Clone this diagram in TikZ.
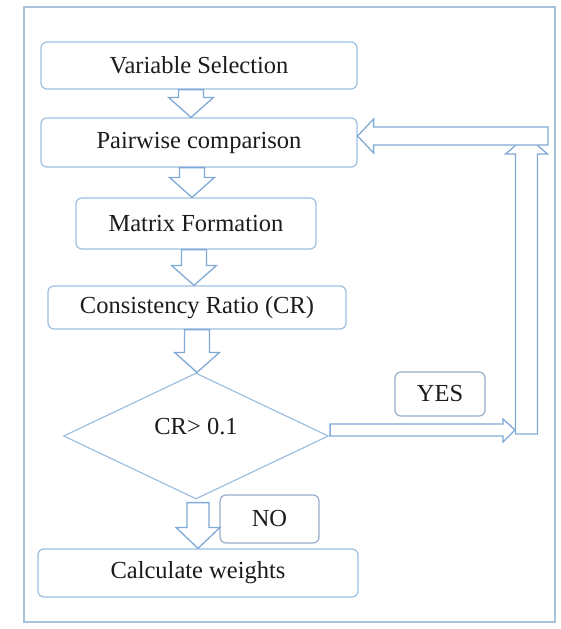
\documentclass[tikz,border=0pt]{standalone}
\usepackage{fontspec}
\setmainfont{Liberation Serif}
\usetikzlibrary{shapes.geometric,calc}
\definecolor{boxline}{HTML}{9DBFDF}
\definecolor{arrline}{HTML}{7FA9D6}
\definecolor{frameline}{HTML}{A7C3DC}
\definecolor{txt}{HTML}{1C1C1C}
\tikzset{
 proc/.style={draw=boxline, line width=1.2pt, rounded corners=6pt, fill=white, text=txt,
   font=\fontsize{24.5}{28}\selectfont, inner sep=0pt},
 tagbox/.style={proc, draw=boxline!75!gray},
 barrow/.style={draw=arrline, line width=1.3pt, fill=white, line join=miter},
}
\newcommand{\vblk}[3]{%
  \draw[barrow] let \p1=(#1.south), \p2=(#2.north) in
   (#3pt-12.5pt,\y1) -- (#3pt+12.5pt,\y1) -- (#3pt+12.5pt,\y2+20pt) -- (#3pt+22.5pt,\y2+20pt)
   -- (#3pt,\y2) -- (#3pt-22.5pt,\y2+20pt) -- (#3pt-12.5pt,\y2+20pt) -- cycle;}
\begin{document}
\begin{tikzpicture}[x=1pt,y=1pt]
\useasboundingbox (0,0) rectangle (561,-629);
\draw[frameline, line width=1.5pt] (24,-7) rectangle (555,-622);

\node[proc, minimum width=316pt, minimum height=47pt] (vs) at (199,-65.5) {Variable Selection};
\node[proc, minimum width=316pt, minimum height=49pt] (pc) at (199,-142.5) {Pairwise comparison};
\node[proc, minimum width=240pt, minimum height=51pt] (mf) at (196,-223.5) {Matrix Formation};
\node[proc, minimum width=298pt, minimum height=43pt] (cr) at (197,-307.5) {Consistency Ratio (CR)};
\node[draw=boxline, line width=1.2pt, shape=diamond, inner sep=0pt, minimum width=265pt,
      minimum height=126pt, text=txt, font=\fontsize{24.5}{28}\selectfont,
      label={[text=txt, font=\fontsize{24.5}{28}\selectfont, yshift=9pt]center:CR> 0.1}] (dia) at (196,-436) {};
\node[tagbox, minimum width=90pt, minimum height=44pt] (yes) at (440,-394) {YES};
\node[tagbox, minimum width=99pt, minimum height=48pt] (no) at (269.5,-519) {NO};
\node[proc, minimum width=320pt, minimum height=48pt] (cw) at (198,-573) {Calculate weights};

\vblk{vs}{pc}{191}
\vblk{pc}{mf}{192}
\vblk{mf}{cr}{194}
\vblk{cr}{dia}{197}
\draw[barrow] let \p1=(dia.south), \p2=(cw.north) in
   (198pt-11pt,\y1-3pt) -- (198pt+11pt,\y1-3pt) -- (198pt+11pt,\y2+21pt) -- (198pt+22pt,\y2+21pt)
   -- (198pt,\y2) -- (198pt-22pt,\y2+21pt) -- (198pt-11pt,\y2+21pt) -- cycle;

\coordinate (fbbot) at (526.5,-434);
\coordinate (fbtop) at (526.5,-136);
\coordinate (fbtr) at (548,-136);
\coordinate (fbin) at (515,-430);

\draw[barrow] let \p1=(fbbot), \p2=(fbtop) in
   (\x1-11pt,\y1) -- (\x1+11pt,\y1) -- (\x1+11pt,\y2-18pt) -- (\x1+21pt,\y2-18pt)
   -- (\x2,\y2) -- (\x1-21pt,\y2-18pt) -- (\x1-11pt,\y2-18pt) -- cycle;
\draw[barrow] let \p1=(fbtr), \p2=(pc.east) in
   (\x1,\y1+9pt) -- (\x2+16pt,\y1+9pt) -- (\x2+16pt,\y1+17pt) -- (\x2,\y1)
   -- (\x2+16pt,\y1-17pt) -- (\x2+16pt,\y1-9pt) -- (\x1,\y1-9pt) -- cycle;
\draw[barrow] let \p1=(dia.east), \p2=(fbin) in
   (\x1+1pt,\y2-6pt) -- (\x2-12pt,\y2-6pt) -- (\x2-12pt,\y2-12pt) -- (\x2,\y2)
   -- (\x2-12pt,\y2+11pt) -- (\x2-12pt,\y2+6pt) -- (\x1+1pt,\y2+6pt) -- cycle;
\end{tikzpicture}
\end{document}
